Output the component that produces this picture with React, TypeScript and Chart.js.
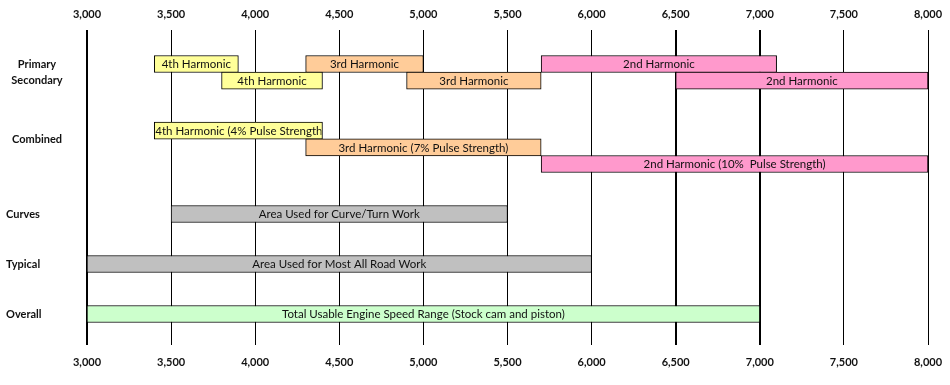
import React, { useEffect, useRef } from 'react';
import { Chart, registerables } from 'chart.js';

Chart.register(...registerables);

const xTicks = [3000, 3500, 4000, 4500, 5000, 5500, 6000, 6500, 7000, 7500, 8000];
const thickLines = [3000, 6500, 7000];

const sideLabels = ['Primary', 'Secondary', 'Combined', 'Curves', 'Typical', 'Overall'];
const sideRows = [0, 1, 4.5, 9, 12, 15];

const barRows = [0, 0, 0, 1, 1, 1, 4, 5, 6, 9, 12, 15];
const barStarts = [3400, 4300, 5700, 3800, 4900, 6500, 3400, 4300, 5700, 3500, 3000, 3000];
const barEnds = [3900, 5000, 7100, 4400, 5700, 8000, 4400, 5700, 8000, 5500, 6000, 7000];
const barTexts = [
  '4th Harmonic',
  '3rd Harmonic',
  '2nd Harmonic',
  '4th Harmonic',
  '3rd Harmonic',
  '2nd Harmonic',
  '4th Harmonic (4% Pulse Strength)',
  '3rd Harmonic (7% Pulse Strength)',
  '2nd Harmonic (10%  Pulse Strength)',
  'Area Used for Curve/Turn Work',
  'Area Used for Most All Road Work',
  'Total Usable Engine Speed Range (Stock cam and piston)',
];
const barKinds = ['h4', 'h3', 'h2', 'h4', 'h3', 'h2', 'h4', 'h3', 'h2', 'use', 'use', 'total'];

const kindColors: Record<string, string> = {
  h4: '#FFFF99',
  h3: '#FFCC99',
  h2: '#FF99CC',
  use: '#C0C0C0',
  total: '#CCFFCC',
};

const FONT = 'Lato, "Open Sans", sans-serif';

const textPlugin = {
  id: 'barText',
  afterDatasetsDraw(chart: any) {
    const ctx = chart.ctx as CanvasRenderingContext2D;
    const meta = chart.getDatasetMeta(0);
    ctx.save();
    ctx.font = `11.5px ${FONT}`;
    ctx.fillStyle = '#111';
    ctx.textBaseline = 'middle';
    meta.data.forEach((el: any, i: number) => {
      const p = el.getProps(['x', 'y', 'base', 'height'], true);
      const left = Math.min(p.x, p.base);
      const right = Math.max(p.x, p.base);
      const top = p.y - p.height / 2;
      const txt = barTexts[i];
      const w = ctx.measureText(txt).width;
      ctx.save();
      ctx.beginPath();
      ctx.rect(left + 1, top + 1, right - left - 2, p.height - 2);
      ctx.clip();
      if (w > right - left - 2) {
        ctx.textAlign = 'left';
        ctx.fillText(txt, left + 1, p.y + 0.5);
      } else {
        ctx.textAlign = 'center';
        ctx.fillText(txt, (left + right) / 2, p.y + 0.5);
      }
      ctx.restore();
    });
    ctx.restore();
  },
  afterDraw(chart: any) {
    const ctx = chart.ctx as CanvasRenderingContext2D;
    const yScale = chart.scales.y;
    ctx.save();
    ctx.font = `bold 11px ${FONT}`;
    ctx.fillStyle = '#111';
    ctx.textBaseline = 'middle';
    sideLabels.forEach((lab, i) => {
      const y = yScale.getPixelForValue(sideRows[i]);
      if (i < 3) {
        ctx.textAlign = 'center';
        ctx.fillText(lab, 37, y);
      } else {
        ctx.textAlign = 'left';
        ctx.fillText(lab, 6, y);
      }
    });
    ctx.restore();
  },
};

export default function App() {
  const ref = useRef<HTMLCanvasElement>(null);
  useEffect(() => {
    const tickFont = { family: FONT, size: 11, weight: 'bold' as const };
    const setTicks = (s: any) => {
      s.ticks = xTicks.map((v) => ({ value: v }));
    };
    const fmt = (v: any) => Number(v).toLocaleString('en-US');
    const fitX = (h: number) => (s: any) => {
      s.height = h;
      s.paddingLeft = 0;
      s.paddingRight = 0;
    };
    const chart = new Chart(ref.current!, {
      type: 'bar',
      data: {
        datasets: [
          {
            data: barRows.map((r, i) => ({ y: r, x: [barStarts[i], barEnds[i]] })) as any,
            backgroundColor: barKinds.map((k) => kindColors[k]),
            borderColor: '#000',
            borderWidth: 1,
            borderSkipped: false,
            barThickness: 17,
          } as any,
        ],
      },
      options: {
        indexAxis: 'y',
        animation: false,
        responsive: false,
        maintainAspectRatio: false,
        layout: { padding: { left: 87, right: 22, top: 0, bottom: 0 } },
        plugins: { legend: { display: false }, tooltip: { enabled: false } },
        scales: {
          x: {
            type: 'linear',
            position: 'bottom',
            min: 3000,
            max: 8000,
            offset: false,
            afterBuildTicks: setTicks,
            ticks: { padding: 11, font: tickFont, color: '#111', callback: fmt, maxRotation: 0, autoSkip: false },
            grid: {
              drawTicks: false,
              color: '#000',
              lineWidth: (c: any) => (c.tick && thickLines.includes(c.tick.value) ? 2 : 1),
            },
            border: { display: false },
            afterFit: fitX(40),
          },
          x2: {
            type: 'linear',
            position: 'top',
            min: 3000,
            max: 8000,
            offset: false,
            afterBuildTicks: setTicks,
            ticks: { padding: 9, font: tickFont, color: '#111', callback: fmt, maxRotation: 0, autoSkip: false },
            grid: { display: false, drawTicks: false },
            border: { display: false },
            afterFit: fitX(30),
          },
          y: {
            type: 'linear',
            display: false,
            offset: false,
            min: -2.04,
            max: 16.86,
            reverse: true,
          },
        },
      } as any,
      plugins: [textPlugin],
    });
    return () => chart.destroy();
  }, []);
  return (
    <div style={{ position: 'fixed', left: 0, top: 0, width: 950, height: 385, background: '#fff' }}>
      <canvas ref={ref} width={950} height={385} style={{ display: 'block' }} />
    </div>
  );
}
